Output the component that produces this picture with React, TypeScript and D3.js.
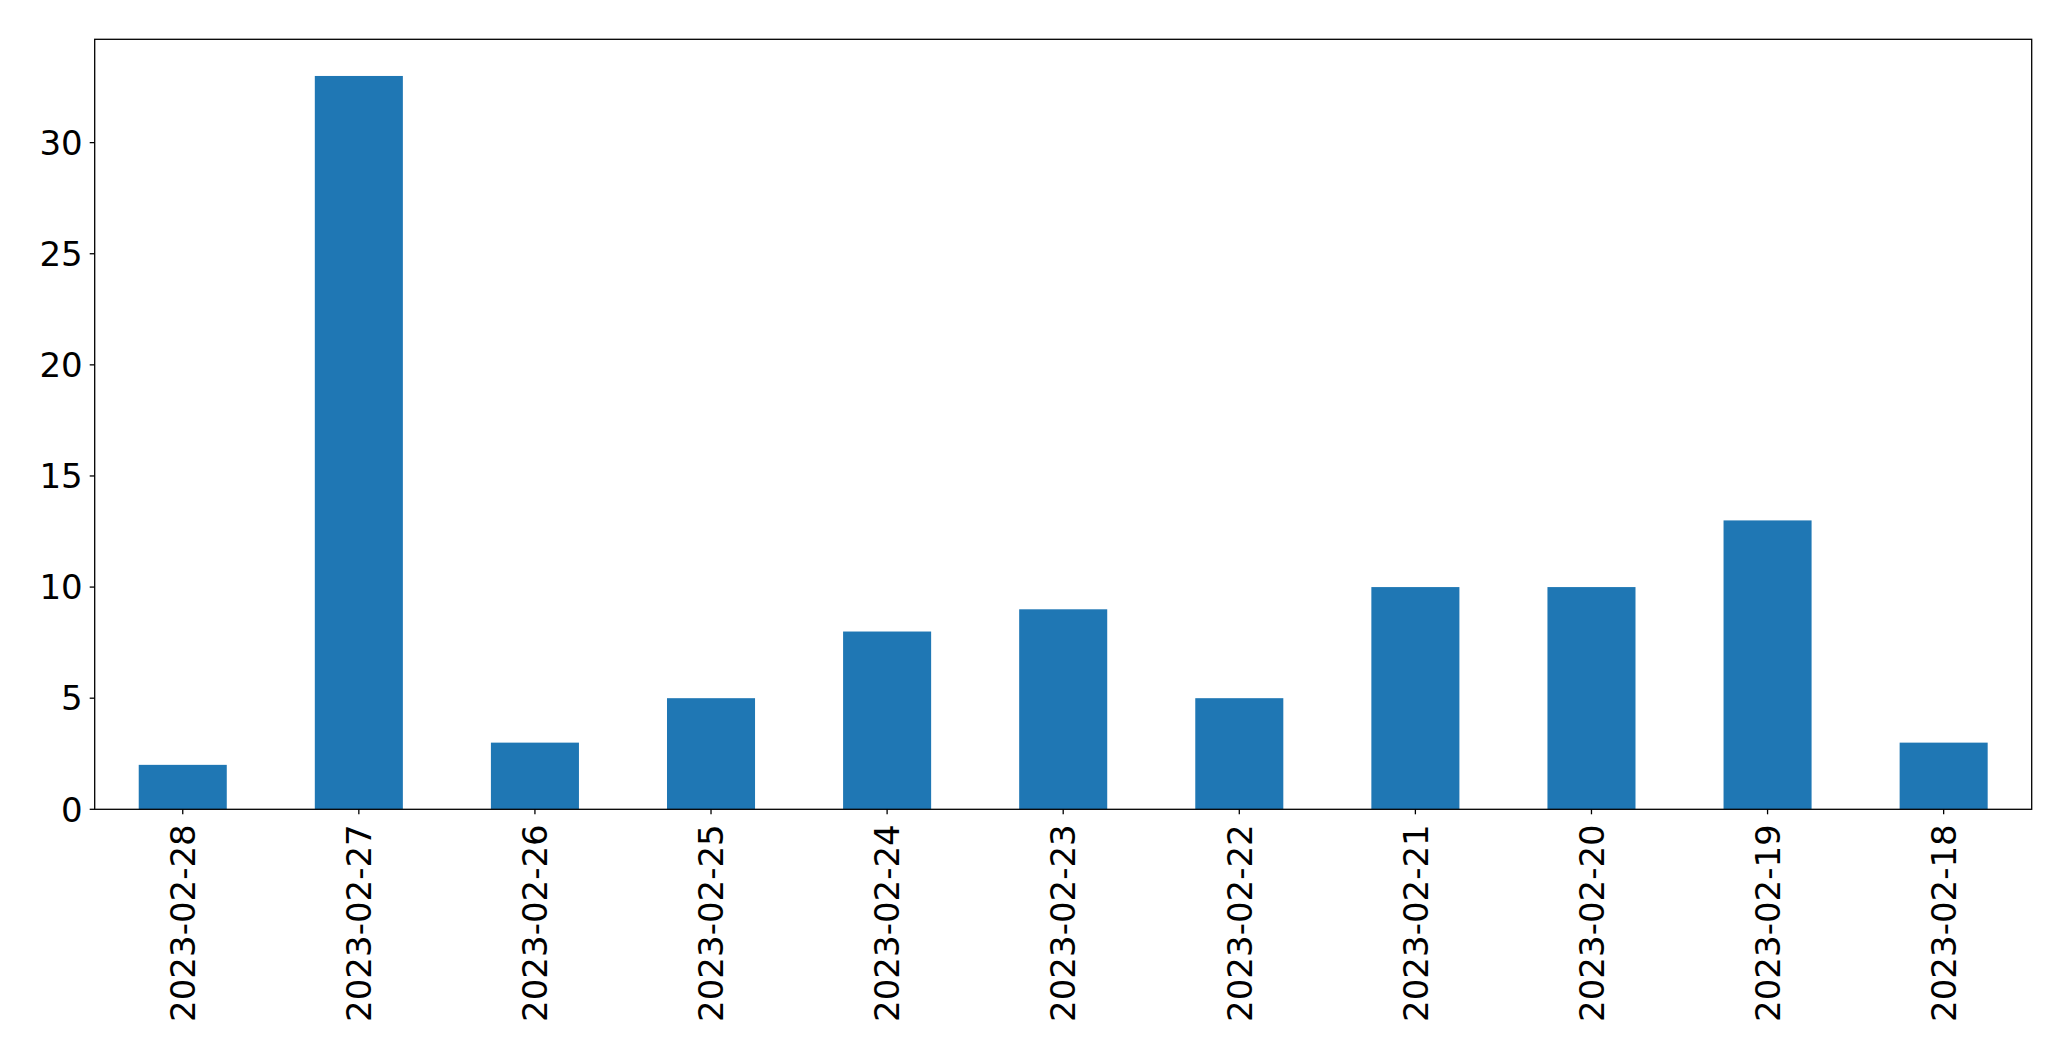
import React from "react";
import * as d3 from "d3";

const categories = ["2023-02-28","2023-02-27","2023-02-26","2023-02-25","2023-02-24","2023-02-23","2023-02-22","2023-02-21","2023-02-20","2023-02-19","2023-02-18"];
const values = [2, 33, 3, 5, 8, 9, 5, 10, 10, 13, 3];
const yTicks = [0, 5, 10, 15, 20, 25, 30];

const W = 2071, H = 1061;
const left = 94.7, right = 2031.7, top = 39.3, bottom = 809.3;
const FONT = "DejaVu Sans, sans-serif";
const FS = 34;

export default function App() {
  const x = d3.scaleBand<string>().domain(categories).range([left, right]).paddingInner(0.5).paddingOuter(0.25);
  const y = d3.scaleLinear().domain([0, d3.max(values)! * 1.05]).range([bottom, top]);
  return (
    <svg width={W} height={H} style={{ position: "absolute", left: 0, top: 0, background: "#fff" }}>
      {categories.map((c, i) => (
        <rect key={c} x={x(c)} y={y(values[i])} width={x.bandwidth()} height={y(0) - y(values[i])} fill="#1f77b4" />
      ))}
      <rect x={left} y={top} width={right - left} height={bottom - top} fill="none" stroke="#000" strokeWidth={1.3} />
      {yTicks.map((t) => (
        <g key={t}>
          <line x1={left - 5} x2={left} y1={y(t)} y2={y(t)} stroke="#000" strokeWidth={1.3} />
          <text x={left - 12} y={y(t)} dy="0.36em" textAnchor="end" fontFamily={FONT} fontSize={FS} fill="#000">{t}</text>
        </g>
      ))}
      {categories.map((c) => {
        const cx = x(c)! + x.bandwidth() / 2;
        return (
          <g key={c}>
            <line x1={cx} x2={cx} y1={bottom} y2={bottom + 5} stroke="#000" strokeWidth={1.3} />
            <text transform={`translate(${cx},${bottom + 15}) rotate(-90)`} dy="0.36em" textAnchor="end" fontFamily={FONT} fontSize={FS} fill="#000">{c}</text>
          </g>
        );
      })}
    </svg>
  );
}
